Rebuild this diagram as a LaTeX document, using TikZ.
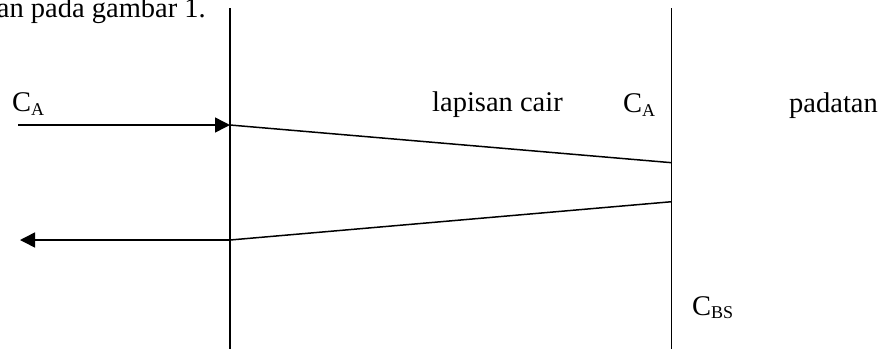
\documentclass[tikz,border=0pt]{standalone}
\usepackage{fontspec}
\setmainfont{Liberation Serif}
\usetikzlibrary{arrows.meta}
\newcommand{\sbs}[1]{\raisebox{-3.5pt}{\fontsize{18}{18}\selectfont #1}}
\begin{document}
\begin{tikzpicture}[x=1pt,y=-1pt,
  lbl/.style={inner sep=0pt,anchor=base west,font=\fontsize{28.5}{30}\selectfont},
  ln/.style={line width=1.5pt},
  tip/.style={-{Triangle[length=15pt,width=15pt]}}]
\useasboundingbox (0,0) rectangle (882,349);
\coordinate (lt) at (230,8);
\coordinate (lb) at (230,349);
\coordinate (rt) at (671.7,8);
\coordinate (rb) at (671.7,349);
\coordinate (p1) at (230,125);
\coordinate (p2) at (671.7,162.7);
\coordinate (p3) at (671.7,201.7);
\coordinate (p4) at (230,240);
\coordinate (a0) at (18,125);
\coordinate (b0) at (20,240);
\draw[ln] (lt) -- (lb);
\draw[ln] (rt) -- (rb);
\draw[ln,tip] (a0) -- (p1);
\draw[ln] (p1) -- (p2);
\draw[ln] (p3) -- (p4);
\draw[ln,tip] (p4) -- (b0);
\node[lbl,anchor=base east] (cap) at (206,17) {an pada gambar 1.};
\node[lbl] (ca1) at (12,111.7) {C\sbs{A}};
\node[lbl] (lap) at (432,111.7) {lapisan cair};
\node[lbl] (ca2) at (623,112.5) {C\sbs{A}};
\node[lbl] (pad) at (789,112.5) {padatan};
\node[lbl] (cbs) at (692,315) {C\sbs{BS}};
\end{tikzpicture}
\end{document}
